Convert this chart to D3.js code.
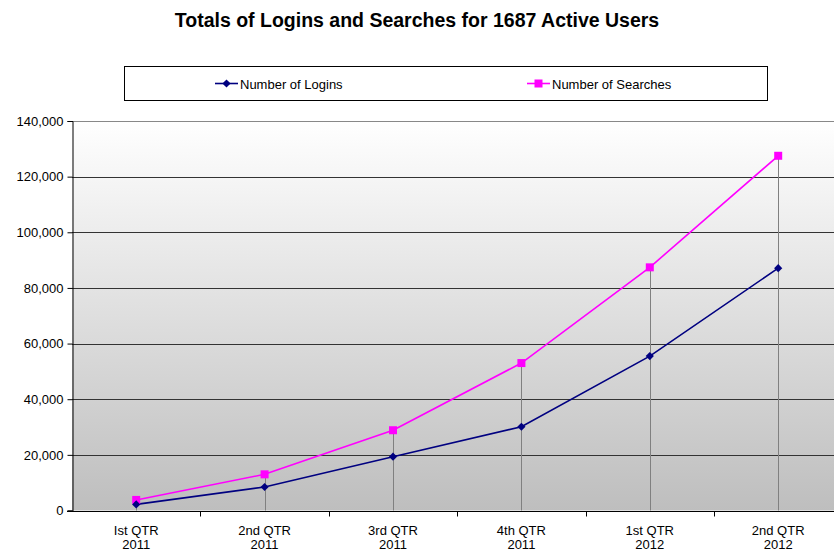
<!DOCTYPE html>
<html>
<head>
<meta charset="utf-8">
<script src="https://cdn.jsdelivr.net/npm/d3@7"></script>
<style>
  body { margin: 0; background: #fff; }
  svg { display: block; font-family: Arial, "Liberation Sans", sans-serif; }
</style>
</head>
<body>
<svg width="834" height="551"></svg>
<script>
// data
var quarters = ['Ist QTR|2011', '2nd QTR|2011', '3rd QTR|2011', '4th QTR|2011', '1st QTR|2012', '2nd QTR|2012']
var logins = [2200, 8450, 19350, 30100, 55500, 87100]
var searches = [3800, 13000, 28850, 53000, 87400, 127500]
var yTicks = [0, 20000, 40000, 60000, 80000, 100000, 120000, 140000]

var svg = d3.select('svg')
var plotL = 72, plotR = 842.4, plotT = 121, plotB = 510.5

var x = d3.scaleBand().domain(quarters).range([plotL, plotR]).padding(0)
var y = d3.scaleLinear().domain([0, 140000]).range([plotB, plotT])
var cx = function (d) { return x(d) + x.bandwidth() / 2 }

// title
svg.append('text')
  .attr('x', 417).attr('y', 27)
  .attr('text-anchor', 'middle')
  .style('font-size', '19.5px').style('font-weight', 'bold')
  .text('Totals of Logins and Searches for 1687 Active Users')

// plot background
var grad = svg.append('defs').append('linearGradient')
  .attr('id', 'bg').attr('x1', 0).attr('y1', 0).attr('x2', 0).attr('y2', 1)
grad.append('stop').attr('offset', '0%').attr('stop-color', '#ffffff')
grad.append('stop').attr('offset', '100%').attr('stop-color', '#bebebe')

svg.append('rect')
  .attr('x', plotL).attr('y', plotT)
  .attr('width', 834 - plotL).attr('height', plotB - plotT)
  .attr('fill', 'url(#bg)')

// gridlines
svg.append('g').selectAll('line').data(yTicks.slice(1))
  .enter().append('line')
  .attr('x1', plotL).attr('x2', 834)
  .attr('y1', function (d) { return Math.round(y(d)) + .5 })
  .attr('y2', function (d) { return Math.round(y(d)) + .5 })
  .attr('stroke', function (d) { return d == 140000 ? '#888' : '#333' })
  .attr('stroke-width', 1)

// drop lines
svg.append('g').selectAll('line').data(quarters)
  .enter().append('line')
  .attr('x1', function (d) { return Math.round(cx(d)) + .5 })
  .attr('x2', function (d) { return Math.round(cx(d)) + .5 })
  .attr('y1', function (d, i) { return y(Math.max(logins[i], searches[i])) })
  .attr('y2', plotB)
  .attr('stroke', '#808080').attr('stroke-width', 1)

// y axis
var yAxis = svg.append('g').attr('transform', 'translate(' + (plotL + .5) + ',0)')
  .call(d3.axisLeft(y).tickValues(yTicks).tickSize(5).tickPadding(4)
        .tickFormat(d3.format(',')))
yAxis.select('.domain').attr('stroke', '#000')
yAxis.selectAll('text').style('font-size', '13px').attr('fill', '#000')

// x axis
var xAxis = svg.append('g').attr('transform', 'translate(0,' + (Math.round(plotB) + .5) + ')')
xAxis.append('line').attr('x1', plotL - 5).attr('x2', 834).attr('stroke', '#000')
xAxis.selectAll('line.tk').data(quarters.slice(1))
  .enter().append('line').attr('class', 'tk')
  .attr('x1', function (d) { return Math.round(x(d)) + .5 })
  .attr('x2', function (d) { return Math.round(x(d)) + .5 })
  .attr('y1', 0).attr('y2', 5).attr('stroke', '#000')
var lbl = xAxis.selectAll('text').data(quarters)
  .enter().append('text')
  .attr('text-anchor', 'middle')
  .attr('x', cx)
  .style('font-size', '13px')
lbl.append('tspan').attr('x', cx).attr('y', 23).text(function (d) { return d.split('|')[0] })
lbl.append('tspan').attr('x', cx).attr('y', 37).text(function (d) { return d.split('|')[1] })

// lines
var line = d3.line().x(function (d, i) { return cx(quarters[i]) }).y(function (d) { return y(d) })

svg.append('path').datum(searches)
  .attr('d', line).attr('fill', 'none')
  .attr('stroke', '#ff00ff').attr('stroke-width', 1.6)
svg.append('path').datum(logins)
  .attr('d', line).attr('fill', 'none')
  .attr('stroke', '#000080').attr('stroke-width', 1.6)

svg.append('g').selectAll('rect').data(searches)
  .enter().append('rect')
  .attr('x', function (d, i) { return cx(quarters[i]) - 4 })
  .attr('y', function (d) { return y(d) - 4 })
  .attr('width', 8).attr('height', 8)
  .attr('fill', '#ff00ff')

// diamond = square turned 45 degrees
function diamondAt(g, px, py, color) {
  g.append('rect')
    .attr('x', -2.9).attr('y', -2.9).attr('width', 5.8).attr('height', 5.8)
    .attr('transform', 'translate(' + px + ',' + py + ') rotate(45)')
    .attr('fill', color)
}
var dg = svg.append('g')
logins.forEach(function (d, i) { diamondAt(dg, cx(quarters[i]), y(d), '#000080') })

// legend
var leg = svg.append('g')
leg.append('rect')
  .attr('x', 124.5).attr('y', 66.5).attr('width', 643).attr('height', 34)
  .attr('fill', '#fff').attr('stroke', '#000')

var items = [
  { name: 'Number of Logins', color: '#000080', x: 215, mark: 'diamond' },
  { name: 'Number of Searches', color: '#ff00ff', x: 527, mark: 'square' }
]
items.forEach(function (it) {
  leg.append('line')
    .attr('x1', it.x).attr('x2', it.x + 23).attr('y1', 83.5).attr('y2', 83.5)
    .attr('stroke', it.color).attr('stroke-width', 1.6)
  if (it.mark == 'diamond') diamondAt(leg, it.x + 11.5, 83.5, it.color)
  else
    leg.append('rect').attr('x', it.x + 7.5).attr('y', 79.5).attr('width', 8).attr('height', 8)
      .attr('fill', it.color)
  leg.append('text')
    .attr('x', it.x + 25).attr('y', 88.5)
    .style('font-size', '13px')
    .text(it.name)
})
</script>
</body>
</html>
